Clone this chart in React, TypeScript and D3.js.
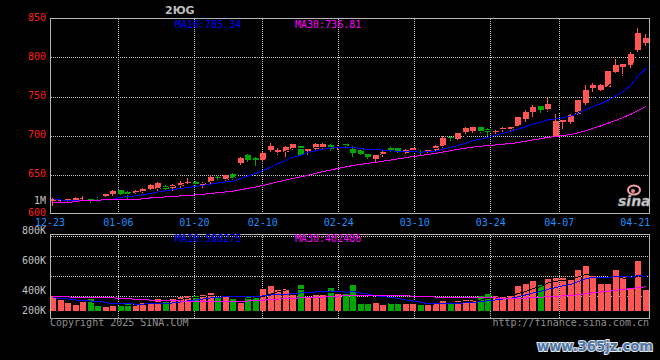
import React from "react";
import * as d3 from "d3";

// ---------- DATA ----------
const dates = [
  "12-23","12-24","12-25","12-26","12-27","12-30","12-31","01-02","01-03","01-06",
  "01-07","01-08","01-09","01-10","01-13","01-14","01-15","01-16","01-17","01-20",
  "01-21","01-22","01-23","01-24","01-27","02-05","02-06","02-07","02-10","02-11",
  "02-12","02-13","02-14","02-17","02-18","02-19","02-20","02-21","02-24","02-25",
  "02-26","02-27","02-28","03-03","03-04","03-05","03-06","03-07","03-10","03-11",
  "03-12","03-13","03-14","03-17","03-18","03-19","03-20","03-21","03-24","03-25",
  "03-26","03-27","03-28","03-31","04-01","04-02","04-03","04-07","04-08","04-09",
  "04-10","04-11","04-14","04-15","04-16","04-17","04-18","04-21","04-22","04-23",
];

const opens = [
  615.4,615.8,615.8,617.6,618.6,618.8,619.6,621.8,624.4,629.5,
  628.2,626.9,627.8,632.0,632.0,635.5,633.3,635.5,638.5,641.0,
  635.9,640.1,647.0,642.9,650.9,664.5,674.4,670.9,668.8,680.8,
  678.6,678.6,682.9,686.3,679.9,682.9,684.2,688.1,684.2,688.5,
  683.0,683.0,676.5,670.1,674.7,684.6,683.7,678.2,680.4,683.0,
  679.5,680.8,685.9,698.7,695.8,704.2,705.5,710.3,708.6,705.8,
  706.8,706.8,712.4,720.9,730.4,737.6,734.6,699.6,716.7,716.7,
  728.2,742.3,761.5,758.1,762.4,781.7,787.2,790.1,809.0,819.2,
];
const highs = [
  619.9,618.0,619.2,620.9,621.8,619.6,620.9,625.6,629.5,629.9,
  628.6,629.9,632.4,637.6,641.0,635.9,637.2,642.3,644.9,641.9,
  640.1,650.0,647.8,650.0,651.7,671.8,676.3,672.2,678.6,690.6,
  684.6,685.9,688.8,686.5,683.7,690.6,690.1,688.5,688.1,689.4,
  686.3,683.3,676.9,675.0,680.0,685.0,684.2,682.9,684.2,683.3,
  682.4,688.1,699.1,700.0,703.0,710.6,711.5,711.5,709.0,707.7,
  710.3,711.5,724.0,732.4,739.7,737.8,748.7,728.2,719.9,728.2,
  746.1,764.5,766.7,766.3,782.9,797.8,791.9,807.3,837.2,829.9,
];
const lows = [
  611.5,615.4,615.4,616.7,617.6,614.5,617.6,621.4,623.1,624.0,
  619.2,626.0,627.3,630.8,630.4,631.7,629.5,633.3,637.8,635.9,
  633.7,639.7,644.5,642.3,643.6,664.1,666.7,662.4,667.0,679.5,
  676.0,673.1,682.9,675.2,676.5,682.9,682.4,682.0,682.9,685.0,
  673.5,676.3,671.4,665.8,673.5,679.5,677.3,677.8,679.9,675.6,
  679.1,680.4,685.5,694.5,695.3,703.8,703.8,705.1,700.4,702.6,
  706.4,706.4,710.3,718.3,725.3,729.5,731.1,699.6,709.0,716.0,
  727.8,740.1,756.8,758.1,761.9,781.4,777.3,787.2,808.1,815.8,
];
const closes = [
  619.2,617.6,618.8,619.9,620.5,617.6,618.6,624.4,628.6,624.4,
  625.6,629.1,632.0,636.5,638.5,632.0,635.9,638.8,641.0,637.8,
  639.7,646.2,645.8,649.4,644.9,671.4,668.0,668.8,677.8,685.9,
  681.7,685.0,688.5,675.6,682.9,689.4,689.7,682.9,686.3,685.9,
  677.8,676.5,671.8,674.4,678.6,680.8,679.9,681.7,683.7,681.7,
  682.0,686.3,696.5,698.0,702.6,709.4,710.6,705.5,704.7,706.4,
  709.9,711.2,723.5,730.4,736.8,732.4,740.1,718.3,719.6,726.9,
  745.3,758.1,764.5,764.5,782.4,790.1,791.4,805.1,832.0,825.6,
];
const volumes = [
  255000,187000,131000,102000,153000,204000,85000,68000,90000,85000,
  136000,119000,141000,141000,204000,187000,204000,243000,260000,260000,
  272000,311000,226000,272000,209000,141000,233000,260000,374000,425000,
  357000,374000,267000,442000,233000,272000,272000,391000,301000,289000,
  442000,119000,119000,136000,102000,131000,119000,119000,131000,107000,
  107000,136000,170000,136000,170000,187000,187000,255000,289000,255000,
  255000,255000,425000,459000,510000,442000,544000,566000,566000,527000,
  697000,765000,595000,459000,459000,697000,595000,391000,850000,357000,
];

const ma10PriceEarly = [618.8,617.3,616.7,616.0,616.3,616.7,617.0,617.6,618.2];
const ma30PriceEarly = [
  613.7,613.7,613.9,615.4,616.7,616.7,616.9,617.9,617.9,617.9,
  617.9,618.0,618.8,620.1,620.1,621.4,621.4,622.7,622.7,624.0,
  624.8,625.7,626.7,627.7,628.7,630.5,632.3,634.0,636.0,
];
const ma10VolEarly = [226000,212000,204000,187000,187000,170000,170000,148000,119000];
const ma30VolEarly = [
  243000,243000,243000,226000,226000,226000,226000,226000,226000,209000,
  209000,199000,199000,182000,182000,175000,175000,170000,170000,165000,
  165000,165000,165000,165000,165000,165000,170000,175000,182000,
];

const priceTicks = [850, 800, 750, 700, 650, 600];
const priceGrid = [800, 750, 700, 650];
const volTickValues = [800000, 600000, 400000, 200000];
const volTickLabels = ["800K", "600K", "400K", "200K"];
const dateTicks = ["12-23","01-06","01-20","02-10","02-24","03-10","03-24","04-07","04-21"];
const priceLegend = [["MA10", "785.34"], ["MA30", "736.81"]];
const volLegend = [["MA10", "588275"], ["MA30", "402486"]];

// ---------- STYLE ----------
const RED = "#ff5555";
const GREEN = "#00a800";
const BLUE = "#0000ff";
const MAGENTA = "#ff00ff";
const GRID = "#c4c4c4";
const BORDER = "#b4b4b4";
const MONO = "'DejaVu Sans Mono', 'Liberation Mono', monospace";

function movingAvg(vals: number[], k: number, early: number[] | null): (number | null)[] {
  return vals.map((_, i) =>
    i >= k - 1 ? (d3.mean(vals.slice(i - k + 1, i + 1)) as number) : early ? early[i] : null
  );
}

export default function App() {
  React.useEffect(() => {
    document.body.style.margin = "0";
    document.body.style.background = "#000";
  }, []);

  const n = closes.length;
  const idx = d3.range(n);
  const pTop = 18.5, pBot = 213.5, vTop = 234.5, vBot = 318.5;
  const L = 50.5, R = 649.5;

  const xBand = d3.scaleBand<number>().domain(idx).range([49.25, 649.25]).paddingInner(0.2).paddingOuter(0.1);
  const xGrid = d3.scaleLinear().domain([0, n - 1]).range([50, 650.4]);
  const bx = (i: number) => Math.round(xBand(i) as number);
  const cx = (i: number) => bx(i) + 3;

  const yP = d3.scaleLinear().domain([600, 850]).range([pBot, pTop]);
  const yV = d3.scaleLinear().domain([0, 1292000]).range([311, 235]);
  const volGridScale = d3.scaleLinear().domain([0, 4]).range([235.5, 315.5]);
  const volLabelScale = d3.scaleLinear().domain([800000, 400000]).range([234.3, 294.3]);

  const ma5P = movingAvg(closes, 5, null);
  const ma10P = movingAvg(closes, 10, ma10PriceEarly);
  const ma30P = movingAvg(closes, 30, ma30PriceEarly);
  const ma5V = movingAvg(volumes, 5, null);
  const ma10V = movingAvg(volumes, 10, ma10VolEarly);
  const ma30V = movingAvg(volumes, 30, ma30VolEarly);

  const lineP = d3.line<number | null>().defined((d) => d != null).x((_, i) => cx(i)).y((d) => yP(d as number));
  const lineV = d3.line<number | null>().defined((d) => d != null).x((_, i) => cx(i)).y((d) => yV(d as number));

  const tickIdx = dateTicks.map((t) => dates.indexOf(t));
  const gx = (i: number) => Math.floor(xGrid(i)) + 0.5;

  return (
    <svg width={660} height={360} style={{ position: "absolute", left: 0, top: 0, display: "block" }}>
      <rect x={0} y={0} width={660} height={360} fill="#000" />

      {/* title */}
      <text x={165} y={13.5} fill="#bdbdbd" fontSize={11} fontWeight="bold" fontFamily="'DejaVu Sans', sans-serif">2ЮG</text>

      {/* price grid */}
      <g stroke={GRID} strokeDasharray="1 1" strokeWidth={1} shapeRendering="crispEdges">
        {priceGrid.map((v) => (
          <line key={v} x1={L} x2={R} y1={Math.round(yP(v)) + 0.5} y2={Math.round(yP(v)) + 0.5} />
        ))}
        {tickIdx.filter((i) => i > 0 && i < n - 3).map((i) => (
          <line key={i} x1={gx(i)} x2={gx(i)} y1={pTop} y2={pBot} />
        ))}
      </g>

      {/* volume grid */}
      <g stroke={GRID} strokeDasharray="1 1" strokeWidth={1} shapeRendering="crispEdges">
        {d3.range(4).map((k) => (
          <line key={k} x1={L} x2={R} y1={Math.round(volGridScale(k)) + 0.5} y2={Math.round(volGridScale(k)) + 0.5} />
        ))}
        {tickIdx.filter((i) => i > 0 && i < n - 3).map((i) => (
          <line key={i} x1={gx(i)} x2={gx(i)} y1={vTop} y2={vBot} />
        ))}
      </g>

      {/* sina logo */}
      <g>
        <ellipse cx={634} cy={190} rx={6} ry={4.5} fill="none" stroke="#f3a3a3" strokeWidth={2} />
        <circle cx={633} cy={191} r={2} fill="#f08a8a" />
        <text x={618} y={206} fill="#cfcfcf" stroke="#8a8a8a" strokeWidth={0.5} fontSize={14} fontStyle="italic" fontWeight="bold" fontFamily="'DejaVu Sans', sans-serif">sina</text>
      </g>

      {/* candles */}
      <g shapeRendering="crispEdges">
        {idx.map((i) => {
          const o = opens[i], c = closes[i];
          const up = c >= o;
          const col = up ? RED : GREEN;
          const yt = Math.round(yP(Math.max(o, c)));
          const yb = Math.round(yP(Math.min(o, c)));
          const yh = Math.round(yP(highs[i]));
          const yl = Math.round(yP(lows[i]));
          return (
            <g key={i}>
              <line x1={bx(i) + 2.5} x2={bx(i) + 2.5} y1={yh} y2={yl + 1} stroke={col} strokeWidth={1} />
              <rect x={bx(i)} y={yt} width={6} height={Math.max(1, yb - yt)} fill={col} />
            </g>
          );
        })}
      </g>

      {/* price MAs */}
      <g fill="none" strokeWidth={1} shapeRendering="crispEdges">
        <path d={lineP(ma5P) || ""} stroke="#000" />
        <path d={lineP(ma10P) || ""} stroke={BLUE} />
        <path d={lineP(ma30P) || ""} stroke={MAGENTA} />
      </g>

      {/* volume bars */}
      <g shapeRendering="crispEdges">
        {idx.map((i) => {
          const up = closes[i] >= opens[i];
          const y = Math.round(yV(volumes[i]));
          return <rect key={i} x={bx(i)} y={y} width={6} height={311 - y} fill={up ? RED : GREEN} />;
        })}
      </g>
      <g fill="none" strokeWidth={1} shapeRendering="crispEdges">
        <path d={lineV(ma5V) || ""} stroke="#000" />
        <path d={lineV(ma10V) || ""} stroke={BLUE} />
        <path d={lineV(ma30V) || ""} stroke={MAGENTA} />
      </g>

      {/* frames */}
      <g fill="none" stroke={BORDER} strokeWidth={1} shapeRendering="crispEdges">
        <rect x={L} y={pTop} width={R - L} height={pBot - pTop} />
        <rect x={L} y={vTop} width={R - L} height={vBot - vTop} />
      </g>

      {/* price axis labels */}
      <g fontFamily={MONO} fontSize={10} textAnchor="end">
        {priceTicks.map((v) => (
          <text key={v} x={46} y={yP(v) + 2} fill="#ff1e1e">{v}</text>
        ))}
        <text x={46} y={pBot - 10} fill="#c0c0c0">1M</text>
      </g>

      {/* date labels */}
      <g fontFamily={MONO} fontSize={10} textAnchor="middle" fill="#1e8fff">
        {dateTicks.map((t, k) => (
          <text key={t} x={xGrid(tickIdx[k])} y={225.5}>{t}</text>
        ))}
      </g>

      {/* volume axis labels */}
      <g fontFamily={MONO} fontSize={10} textAnchor="end" fill="#c0c0c0">
        {volTickValues.map((v, k) => (
          <text key={v} x={46} y={Math.min(volLabelScale(v), vBot - 4.2)}>{volTickLabels[k]}</text>
        ))}
      </g>

      {/* legends */}
      <g fontFamily={MONO} fontSize={10}>
        {priceLegend.map(([name, val], k) => (
          <text key={name} x={175 + k * 120} y={27.6} fill={k === 0 ? BLUE : MAGENTA}>{`${name}:${val}`}</text>
        ))}
        {volLegend.map(([name, val], k) => (
          <text key={name} x={175 + k * 120} y={242} fill={k === 0 ? BLUE : MAGENTA}>{`${name}:${val}`}</text>
        ))}
      </g>

      {/* footer */}
      <g fontFamily={MONO} fontSize={10} fill="#8e8e8e">
        <text x={50} y={325.5}>Copyright 2025 SINA.COM</text>
        <text x={649} y={325.5} textAnchor="end">http://finance.sina.com.cn</text>
      </g>
      <text x={537} y={350.5} textLength={116} lengthAdjust="spacingAndGlyphs" fontSize={14} fontWeight="bold"
        fontFamily="'DejaVu Sans', sans-serif" fill="#4f76a6" stroke="#e2e8ef" strokeWidth={2} paintOrder="stroke">
        www.365jz.com
      </text>
    </svg>
  );
}
